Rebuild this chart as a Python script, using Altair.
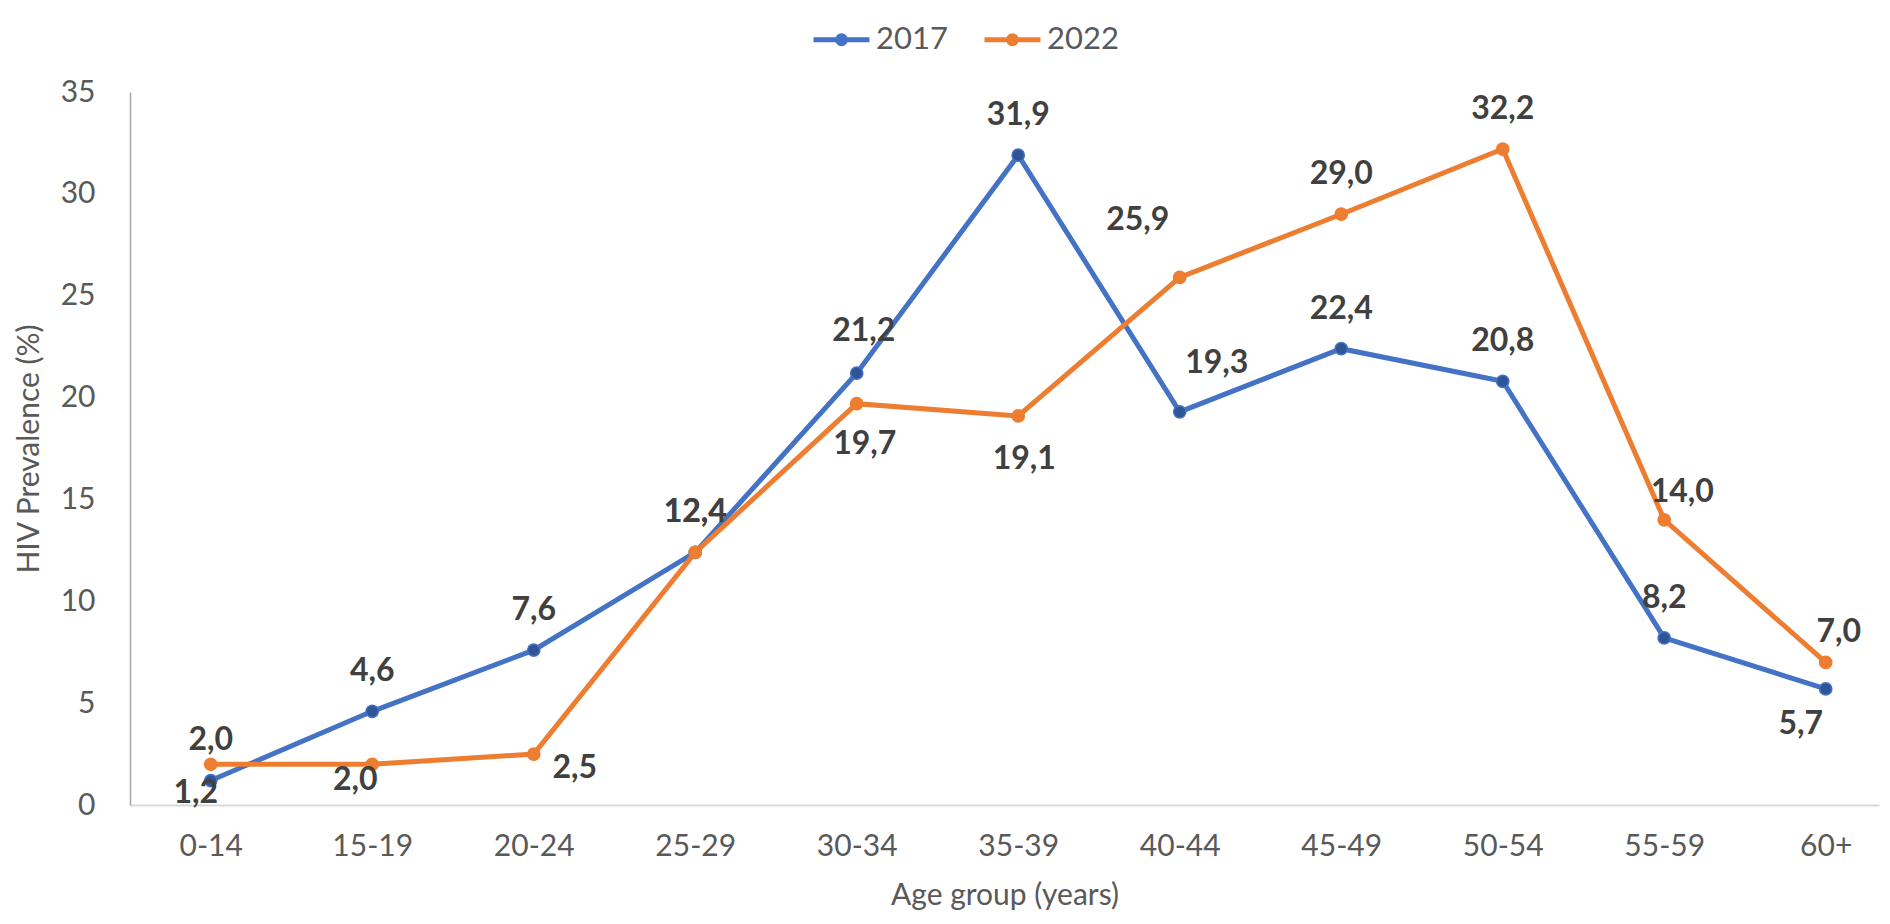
import altair as alt
import pandas as pd

# ---------------- data ----------------
age_groups = ["0-14", "15-19", "20-24", "25-29", "30-34", "35-39",
              "40-44", "45-49", "50-54", "55-59", "60+"]
prev_2017 = [1.2, 4.6, 7.6, 12.4, 21.2, 31.9, 19.3, 22.4, 20.8, 8.2, 5.7]
prev_2022 = [2.0, 2.0, 2.5, 12.4, 19.7, 19.1, 25.9, 29.0, 32.2, 14.0, 7.0]
series_names = ["2017", "2022"]
y_ticks = [0, 5, 10, 15, 20, 25, 30, 35]

rows = []
for s, vals in zip(series_names, [prev_2017, prev_2022]):
    for i, (a, v) in enumerate(zip(age_groups, vals)):
        rows.append({"series": s, "age": a, "idx": i, "value": v})
df = pd.DataFrame(rows)

# ---------------- styling ----------------
FONT = "Lato"
LINE_COLORS = ["#4472C4", "#ED7D31"]
MARKER_FILLS = ["#2F5597", "#ED7D31"]
TICK_COLOR = "#595959"
LABEL_COLOR = "#404040"

# pixel offsets of the data labels (dx, dy); default is above the point
DEFAULT_OFFSET = (0, -40)
LABEL_OFFSETS = {
    ("2017", "0-14"): (-15, 12),
    ("2017", "30-34"): (7, -42),
    ("2017", "40-44"): (37, -49),
    ("2017", "60+"): (-25, 35),
    ("2022", "0-14"): (0, -24),
    ("2022", "15-19"): (-17, 16),
    ("2022", "20-24"): (41, 14),
    ("2022", "30-34"): (8, 40),
    ("2022", "35-39"): (6, 43),
    ("2022", "40-44"): (-42, -57),
    ("2022", "55-59"): (18, -28),
    ("2022", "60+"): (13, -30),
}
df["off"] = ["%d_%d" % LABEL_OFFSETS.get((r.series, r.age), DEFAULT_OFFSET)
             for r in df.itertuples()]

label_expr = "[" + ",".join("'%s'" % a for a in age_groups) + "][datum.value]"

x_enc = alt.X(
    "idx:Q",
    scale=alt.Scale(domain=[-0.5, 10.33], nice=False, zero=False),
    axis=alt.Axis(
        values=list(range(len(age_groups))),
        labelExpr=label_expr,
        title="Age group (years)",
        ticks=False, grid=False, labelFlush=False, labelOverlap=False,
        domainColor="#D9D9D9", domainWidth=2,
        labelFont=FONT, labelFontSize=30, labelColor=TICK_COLOR, labelPadding=26,
        titleFont=FONT, titleFontSize=30, titleFontWeight="normal",
        titleColor=TICK_COLOR, titlePadding=19,
    ),
)
y_enc = alt.Y(
    "value:Q",
    scale=alt.Scale(domain=[0, 35], nice=False),
    axis=alt.Axis(
        values=y_ticks,
        title="HIV Prevalence (%)",
        ticks=False, grid=False, labelFlush=False,
        domainColor="#A6A6A6", domainWidth=1.5,
        labelFont=FONT, labelFontSize=30, labelColor=TICK_COLOR, labelPadding=35,
        titleFont=FONT, titleFontSize=30, titleFontWeight="normal",
        titleColor=TICK_COLOR, titlePadding=16,
    ),
)

legend_symbol = ("M-1,0L1,0"
                 "M-0.143,0A0.143,0.143,0,1,1,0.143,0A0.143,0.143,0,1,1,-0.143,0"
                 "M-0.05,0A0.05,0.05,0,1,1,0.05,0A0.05,0.05,0,1,1,-0.05,0")

base = alt.Chart(df)

lines = base.mark_line(strokeWidth=5).encode(
    x=x_enc, y=y_enc,
    color=alt.Color(
        "series:N",
        scale=alt.Scale(domain=series_names, range=LINE_COLORS),
        legend=alt.Legend(
            title=None, orient="none", direction="horizontal",
            legendX=681, legendY=-83, padding=0,
            symbolType=legend_symbol, symbolSize=3136, symbolStrokeWidth=5,
            labelFont=FONT, labelFontSize=31, labelColor=TICK_COLOR,
            labelOffset=4, columnPadding=26,
        ),
    ),
)

points = base.mark_circle(size=150, strokeWidth=1.5, opacity=1).encode(
    x=x_enc, y=y_enc,
    fill=alt.Fill("series:N", scale=alt.Scale(domain=series_names, range=MARKER_FILLS), legend=None),
    stroke=alt.Stroke("series:N", scale=alt.Scale(domain=series_names, range=LINE_COLORS), legend=None),
)

layers = [lines, points]
for key in sorted(set(df["off"])):
    dx, dy = (int(v) for v in key.split("_"))
    layers.append(
        base.transform_filter(alt.datum.off == key)
        .transform_calculate(lab="replace(format(datum.value, '.1f'), '.', ',')")
        .mark_text(dx=dx, dy=dy, font=FONT, fontSize=32, fontWeight="bold",
                   color=LABEL_COLOR, align="center", baseline="middle")
        .encode(x=x_enc, y=y_enc, text="lab:N")
    )

chart = (
    alt.layer(*layers)
    .properties(
        width=1749, height=713,
        autosize=alt.AutoSizeParams(type="none"),
        padding={"left": 122, "top": 84, "right": 3, "bottom": 105},
        background="white",
    )
    .configure_view(stroke=None)
)

chart.save("out.html", embed_options={"renderer": "svg", "actions": False})
